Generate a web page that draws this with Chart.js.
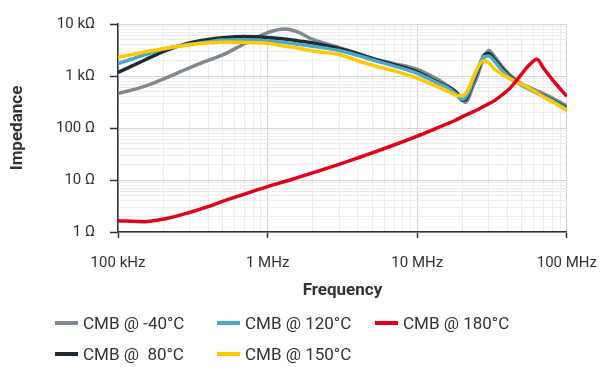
<!DOCTYPE html>
<html>
<head>
<meta charset="utf-8">
<script src="https://cdn.jsdelivr.net/npm/chart.js@4.4.1/dist/chart.umd.min.js"></script>
<style>
  html, body { margin: 0; padding: 0; background: #fff; }
  #wrap { position: relative; width: 613px; height: 367px; overflow: hidden; }
  #chart { position: absolute; left: 0; top: 0; }
  .item { position: absolute; height: 24px; display: flex; align-items: center;
          font-family: Roboto, sans-serif; font-size: 17px; color: #333; white-space: pre; }
  .swatch { width: 23px; height: 4px; margin-right: 5px; }
</style>
</head>
<body>
<div id="wrap">
  <canvas id="chart" width="613" height="367"></canvas>
  <div id="legend"></div>
</div>
<script>
// frequency in Hz, impedance in ohm
const frequencies = [1e5, 1.5e5, 2e5, 3e5, 4e5, 5e5, 7e5, 1e6, 1.3e6, 1.6e6, 2e6, 3e6, 4e6, 5e6, 7e6,
  1e7, 1.3e7, 1.6e7, 1.8e7, 2e7, 2.1e7, 2.2e7, 2.35e7, 2.5e7, 2.65e7, 2.8e7, 3e7, 3.3e7, 3.7e7,
  4.2e7, 5e7, 5.6e7, 6.3e7, 7e7, 8e7, 1e8];

const zMinus40 = [459, 632, 873, 1432, 2000, 2541, 4178, 6800, 7970, 6950, 5040, 3535, 2687, 2188, 1729,
  1337, 930, 646, 511, 355, 312, 370, 619, 929, 1521, 2285, 3083, 2333, 1521,
  1035, 704, 606, 521, 455, 378, 267];
const z80 = [1177, 2010, 2954, 4342, 5040, 5423, 5730, 5495, 5150, 4729, 4303, 3388, 2687, 2188, 1657,
  1202, 818, 619, 500, 340, 355, 440, 735, 1127, 1806, 2541, 2710, 2052, 1396,
  950, 675, 568, 479, 412, 340, 242];
const z120 = [1729, 2541, 3288, 4070, 4529, 4934, 4970, 4729, 4432, 4070, 3736, 3083, 2489, 2052, 1553,
  1127, 783, 593, 459, 355, 385, 479, 801, 1228, 1884, 2385, 2436, 1884, 1282,
  910, 660, 556, 469, 404, 333, 231];
const z150 = [2285, 2891, 3357, 3984, 4342, 4529, 4432, 4249, 3736, 3430, 3018, 2598, 1966, 1622, 1255,
  910, 660, 511, 430, 415, 459, 568, 910, 1337, 1767, 1966, 1806, 1337, 1080,
  872, 689, 581, 479, 395, 319, 217];
const z180 = [1.65, 1.58, 1.76, 2.37, 3.07, 3.88, 5.35, 7.44, 9.34, 11.2, 13.7, 20.0, 26.5, 33.1, 47.1,
  69.8, 95, 122, 141, 165, 176, 187, 204, 222, 242, 263, 291, 340, 436,
  598, 1104, 1622, 2097, 1400, 852, 404];

const xTicks = [1e5, 1e6, 1e7, 1e8];
const xTickLabels = ['100 kHz', '1 MHz', '10 MHz', '100 MHz'];
const yTicks = [1, 10, 100, 1000, 10000];
const yTickLabels = ['1 Ω', '10 Ω', '100 Ω', '1 kΩ', '10 kΩ'];

// series in legend order, with legend slot
const series = [
  { label: 'CMB @ -40°C', values: zMinus40, color: '#80898f', slot: [55, 311], z: 5 },
  { label: 'CMB @  80°C', values: z80, color: '#1f2a32', slot: [55, 342], z: 4 },
  { label: 'CMB @ 120°C', values: z120, color: '#47aacb', slot: [217, 311], z: 3 },
  { label: 'CMB @ 150°C', values: z150, color: '#ffc800', slot: [217, 342], z: 2 },
  { label: 'CMB @ 180°C', values: z180, color: '#e2001a', slot: [375, 311], z: 1 }
];

// grid lines at 1..9 x each decade
function decadeTicks(min, max) {
  const out = [];
  for (let d = min; d < max; d *= 10) {
    for (let m = 1; m < 10; m++) out.push({ value: d * m, major: m === 1 });
  }
  out.push({ value: max, major: true });
  return out;
}

const tickFont = { family: 'Roboto', size: 15 };
const titleFont = { family: 'Roboto', size: 17, weight: 'bold' };

new Chart(document.getElementById('chart'), {
  type: 'line',
  data: {
    datasets: series.map(s => ({
      label: s.label,
      data: frequencies.map((f, i) => ({ x: f, y: s.values[i] })),
      borderColor: s.color,
      backgroundColor: s.color,
      borderWidth: 3.5,
      pointRadius: 0,
      cubicInterpolationMode: 'monotone',
      order: s.z
    }))
  },
  options: {
    responsive: false,
    animation: false,
    devicePixelRatio: 1,
    layout: { padding: { left: 0, right: 46, top: 17, bottom: 65 } },
    plugins: { legend: { display: false }, tooltip: { enabled: false } },
    scales: {
      x: {
        type: 'logarithmic',
        min: xTicks[0],
        max: xTicks[xTicks.length - 1],
        afterBuildTicks: scale => { scale.ticks = decadeTicks(scale.min, scale.max); },
        afterFit: scale => { scale.height = 70; },
        ticks: {
          autoSkip: false,
          maxRotation: 0,
          padding: 16,
          color: '#333',
          font: tickFont,
          callback: v => { const i = xTicks.indexOf(v); return i >= 0 ? xTickLabels[i] : ''; }
        },
        grid: {
          color: ctx => ctx.tick && ctx.tick.major ? '#d4d4d4' : '#ececec',
          lineWidth: 1,
          tickLength: 6,
          tickColor: ctx => ctx.tick && ctx.tick.major ? '#333' : 'rgba(0,0,0,0)',
          tickWidth: 1.5
        },
        border: { color: '#333', width: 1.5 },
        title: { display: true, text: 'Frequency', color: '#333', font: titleFont, padding: { top: 0, bottom: 1 } }
      },
      y: {
        type: 'logarithmic',
        min: yTicks[0],
        max: yTicks[yTicks.length - 1],
        afterBuildTicks: scale => { scale.ticks = decadeTicks(scale.min, scale.max); },
        afterFit: scale => { scale.width = 118; },
        ticks: {
          autoSkip: false,
          padding: 15,
          color: '#333',
          font: tickFont,
          callback: v => { const i = yTicks.indexOf(v); return i >= 0 ? yTickLabels[i] : ''; }
        },
        grid: {
          color: ctx => ctx.tick && ctx.tick.major ? '#d4d4d4' : '#ececec',
          lineWidth: 1,
          tickLength: 8,
          tickColor: ctx => ctx.tick && ctx.tick.major ? '#333' : 'rgba(0,0,0,0)',
          tickWidth: 1.5
        },
        border: { color: '#333', width: 1.5 },
        title: { display: true, text: 'Impedance', color: '#333', font: titleFont, padding: { top: 8, bottom: 0 } }
      }
    }
  }
});

// legend laid out in columns like the original
const legend = document.getElementById('legend');
series.forEach(s => {
  const item = document.createElement('div');
  item.className = 'item';
  item.style.left = s.slot[0] + 'px';
  item.style.top = s.slot[1] + 'px';
  const sw = document.createElement('span');
  sw.className = 'swatch';
  sw.style.background = s.color;
  item.appendChild(sw);
  item.appendChild(document.createTextNode(s.label));
  legend.appendChild(item);
});
</script>
</body>
</html>
